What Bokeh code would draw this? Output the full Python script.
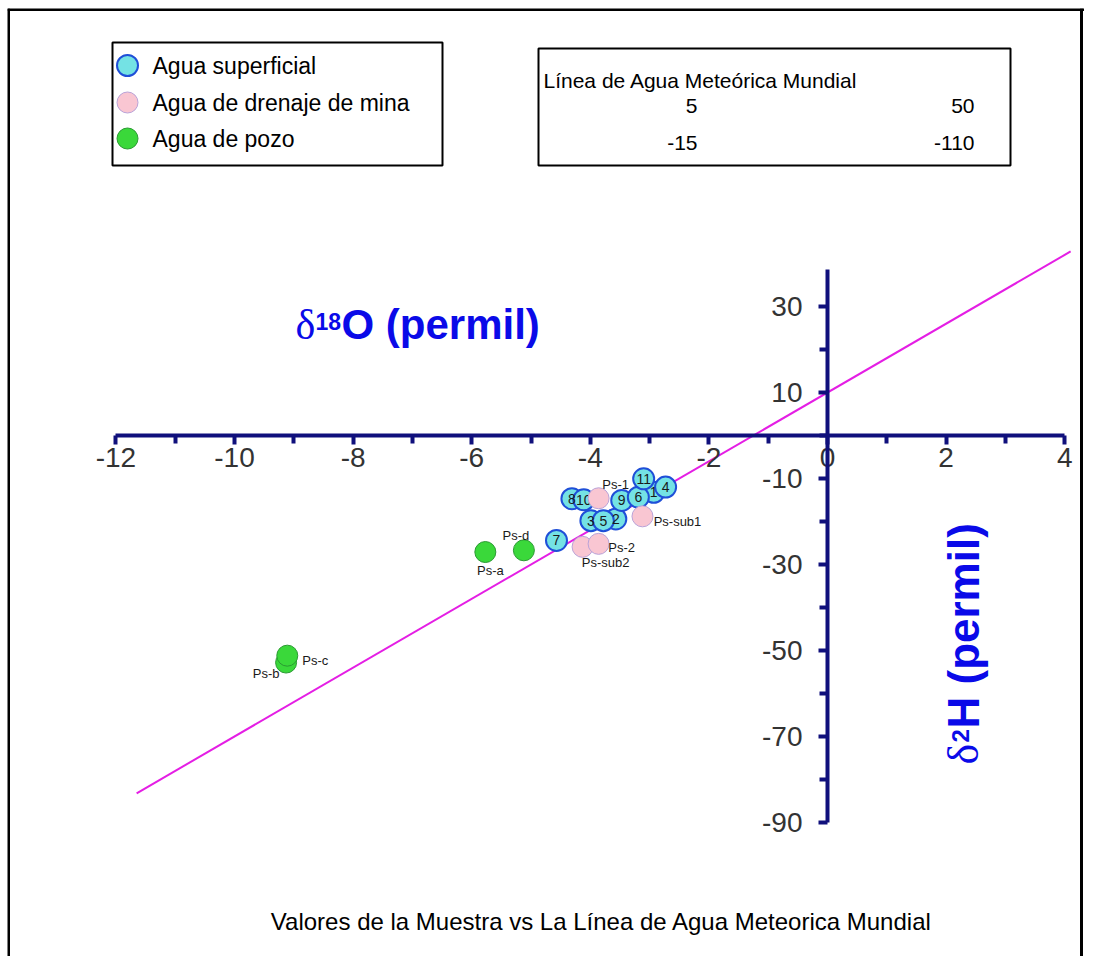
import math
from bokeh.plotting import figure
from bokeh.models import (Range1d, LinearAxis, FixedTicker, ColumnDataSource,
                          Label, BoxAnnotation, PrintfTickFormatter, Span)
from bokeh.embed import file_html
from bokeh.resources import INLINE
from bokeh.core.properties import value

# ---------------- data ----------------
SUP_IDS = ["8", "10", "3", "2", "5", "9", "1", "4", "6", "11", "7"]
SUP_O18 = [-4.31, -4.11, -3.99, -3.57, -3.78, -3.47, -2.93, -2.73, -3.19, -3.10, -4.57]
SUP_H2 = [-14.7, -14.95, -19.8, -19.4, -19.8, -15.1, -13.2, -12.0, -14.35, -10.07, -24.4]

MINA_IDS = ["Ps-1", "Ps-sub1", "Ps-sub2", "Ps-2"]
MINA_O18 = [-3.86, -3.12, -4.13, -3.86]
MINA_H2 = [-14.6, -18.8, -25.9, -25.2]

POZO_IDS = ["Ps-a", "Ps-d", "Ps-b", "Ps-c"]
POZO_O18 = [-5.77, -5.12, -9.13, -9.11]
POZO_H2 = [-27.1, -26.7, -52.8, -51.2]

MWL_O18 = [-11.65, 4.1]
MWL_H2 = [-83.2, 42.8]

X_TICKS = [-12, -10, -8, -6, -4, -2, 0, 2, 4]
X_MINOR = [-11, -9, -7, -5, -3, -1, 1, 3]
Y_TICKS = [30, 10, -10, -30, -50, -70, -90]
Y_MINOR = [20, 0, -20, -40, -60, -80]

SERIES = ["Agua superficial", "Agua de drenaje de mina", "Agua de pozo"]
MWL_TITLE = "Línea de Agua Meteórica Mundial"
MWL_TABLE_O18 = ["5", "-15"]
MWL_TABLE_H2 = ["50", "-110"]
FOOTER = "Valores de la Muestra vs La Línea de Agua Meteorica Mundial"

# label placement (screen px offsets from the point)
LABEL_OFFSETS = {"Ps-1": (17, -14), "Ps-sub1": (35, 5), "Ps-2": (23, 4),
                 "Ps-sub2": (23, 16), "Ps-a": (5, 18), "Ps-d": (-8, -15),
                 "Ps-c": (28, 5), "Ps-b": (-20, 11)}

# ---------------- layout / scales ----------------
W, H = 1084, 956
BL, BT = 7, 8                    # frame inset (left, top)
PX_X, PX_Y = 59.3, 4.3           # pixels per data unit
ORIG_X, ORIG_Y = 827, 435        # canvas pixel of the origin

x_start = (BL - ORIG_X) / PX_X
x_end = (W - ORIG_X) / PX_X
y_end = (ORIG_Y - BT) / PX_Y
y_start = (ORIG_Y - H) / PX_Y


def dx(px):
    return (px - ORIG_X) / PX_X


def dy(py):
    return (ORIG_Y - py) / PX_Y


FONT = "Liberation Sans"
NAVY = "#10107c"
BLUE = "#0a0ae8"

STY_SUP = dict(fill_color="#74e2e4", line_color="#1f4fd8", line_width=2)
STY_MINA = dict(fill_color="#f9c6d2", line_color="#b9a2d8", line_width=1)
STY_POZO = dict(fill_color="#3ad83a", line_color="#2a9a32", line_width=1)
MS = 21

p = figure(width=W, height=H, x_range=Range1d(x_start, x_end),
           y_range=Range1d(y_start, y_end), x_axis_type=None, y_axis_type=None,
           toolbar_location=None, output_backend="svg",
           min_border_left=BL, min_border_top=BT, min_border_right=0,
           min_border_bottom=0,
           outline_line_color=None, background_fill_color="white",
           border_fill_color="white")

# page frame (left, top, right)
for loc, dim in ((dx(BL + 1), "height"), (dx(W - 3), "height"), (dy(BT + 1), "width")):
    p.add_layout(Span(location=loc, dimension=dim, line_color="black",
                      line_width=3))

# axes crossing at the origin
xa = LinearAxis(fixed_location=0, bounds=(-12, 4),
                ticker=FixedTicker(ticks=X_TICKS, minor_ticks=X_MINOR))
ya = LinearAxis(fixed_location=0, bounds=(-90, 38.5),
                ticker=FixedTicker(ticks=Y_TICKS, minor_ticks=Y_MINOR))
for ax in (xa, ya):
    ax.formatter = PrintfTickFormatter(format="%d")
    ax.axis_line_color = NAVY
    ax.axis_line_width = 4
    ax.major_tick_line_color = NAVY
    ax.major_tick_line_width = 4
    ax.minor_tick_line_color = NAVY
    ax.minor_tick_line_width = 4
    ax.major_tick_in = 0
    ax.minor_tick_in = 0
    ax.major_tick_out = 9
    ax.minor_tick_out = 8
    ax.major_label_text_font = FONT
    ax.major_label_text_font_size = "28px"
    ax.major_label_text_color = "#333333"
xa.major_label_standoff = 3
ya.major_label_standoff = 16
p.add_layout(xa, "below")
p.add_layout(ya, "left")

# meteoric water line
p.line(MWL_O18, MWL_H2, line_color="#e41ee4", line_width=2)

# points
sup = ColumnDataSource(dict(x=SUP_O18, y=SUP_H2, t=SUP_IDS))
p.scatter("x", "y", source=sup, size=MS, **STY_SUP)
p.text("x", "y", text="t", source=sup, text_align="center",
       text_baseline="middle", text_font_size="14px", text_color="#1a1a1a",
       text_font=value(FONT))

mina = ColumnDataSource(dict(x=MINA_O18, y=MINA_H2, t=MINA_IDS,
                             ox=[LABEL_OFFSETS[k][0] for k in MINA_IDS],
                             oy=[LABEL_OFFSETS[k][1] for k in MINA_IDS]))
p.scatter("x", "y", source=mina, size=MS, **STY_MINA)
p.text("x", "y", text="t", source=mina, x_offset="ox", y_offset="oy",
       text_align="center", text_baseline="middle", text_font_size="13px",
       text_color="#1a1a1a", text_font=value(FONT))

pozo = ColumnDataSource(dict(x=POZO_O18, y=POZO_H2, t=POZO_IDS,
                             ox=[LABEL_OFFSETS[k][0] for k in POZO_IDS],
                             oy=[LABEL_OFFSETS[k][1] for k in POZO_IDS]))
p.scatter("x", "y", source=pozo, size=MS, **STY_POZO)
p.text("x", "y", text="t", source=pozo, x_offset="ox", y_offset="oy",
       text_align="center", text_baseline="middle", text_font_size="13px",
       text_color="#1a1a1a", text_font=value(FONT))

# axis titles
p.add_layout(Label(x=dx(295), y=dy(347), text="δ", text_font="Liberation Serif",
                   text_font_size="42px", text_color=BLUE))
p.add_layout(Label(x=dx(315), y=dy(329), text="18", text_font=FONT,
                   text_font_style="bold", text_font_size="23px", text_color=BLUE))
p.add_layout(Label(x=dx(341), y=dy(347), text="O (permil)", text_font=FONT,
                   text_font_style="bold", text_font_size="42px", text_color=BLUE))

p.add_layout(Label(x=dx(987), y=dy(764), angle=math.pi / 2, text="δ",
                   text_font="Liberation Serif", text_font_size="44px",
                   text_color=BLUE))
p.add_layout(Label(x=dx(968), y=dy(742), angle=math.pi / 2, text="2",
                   text_font=FONT, text_font_style="bold", text_font_size="24px",
                   text_color=BLUE))
p.add_layout(Label(x=dx(987), y=dy(728), angle=math.pi / 2, text="H (permil)",
                   text_font=FONT, text_font_style="bold", text_font_size="44px",
                   text_color=BLUE))

# legend box (series)
p.add_layout(BoxAnnotation(left=dx(112), right=dx(442), top=dy(42), bottom=dy(165),
                           fill_color=None, line_color="black", line_alpha=1,
                           line_width=2))
leg_y = [dy(65), dy(102), dy(138)]
for sty, yy, name in zip((STY_SUP, STY_MINA, STY_POZO), leg_y, SERIES):
    p.scatter([dx(127)], [yy], size=MS, **sty)
    p.add_layout(Label(x=dx(152), y=yy, text=name, text_font=FONT,
                       text_font_size="23px", text_baseline="middle",
                       text_color="black"))

# legend box (meteoric line table)
p.add_layout(BoxAnnotation(left=dx(538), right=dx(1010), top=dy(48), bottom=dy(165),
                           fill_color=None, line_color="black", line_alpha=1,
                           line_width=2))
p.add_layout(Label(x=dx(543), y=dy(80), text=MWL_TITLE, text_font=FONT,
                   text_font_size="21px", text_baseline="middle", text_color="black"))
for row, yy in enumerate((dy(105), dy(142))):
    p.add_layout(Label(x=dx(697), y=yy, text=MWL_TABLE_O18[row], text_font=FONT,
                       text_font_size="21px", text_baseline="middle",
                       text_align="right", text_color="black"))
    p.add_layout(Label(x=dx(974), y=yy, text=MWL_TABLE_H2[row], text_font=FONT,
                       text_font_size="21px", text_baseline="middle",
                       text_align="right", text_color="black"))

# footer
p.add_layout(Label(x=dx(601), y=dy(921), text=FOOTER, text_font=FONT,
                   text_font_size="24px", text_align="center",
                   text_baseline="middle", text_color="black"))

open("out.html", "w").write(file_html(p, INLINE))
